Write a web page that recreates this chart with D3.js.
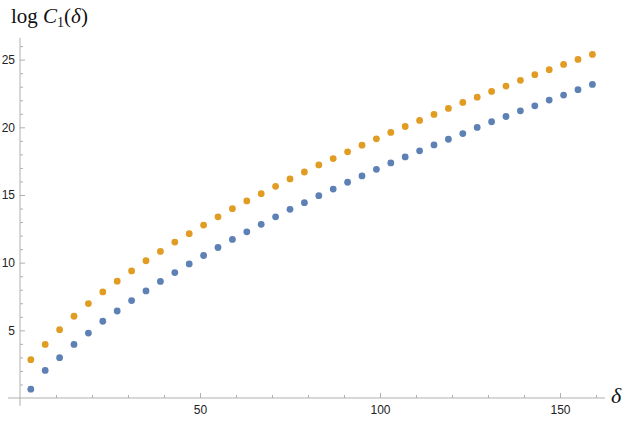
<!DOCTYPE html>
<html>
<head>
<meta charset="utf-8">
<script src="https://cdn.jsdelivr.net/npm/d3@7"></script>
<style>
  body { margin: 0; background: #fff; }
  svg { display: block; }
  .tick text { font-family: "Liberation Sans", Arial, sans-serif; font-size: 12px; fill: #222; }
  .tick line { stroke: #b0b0b0; }
</style>
</head>
<body>
<svg id="chart" width="628" height="421"></svg>
<script>
// delta values (x) shared by both series
var deltas = [3, 7, 11, 15, 19, 23, 27, 31, 35, 39, 43, 47, 51, 55, 59, 63, 67, 71, 75, 79,
              83, 87, 91, 95, 99, 103, 107, 111, 115, 119, 123, 127, 131, 135, 139, 143, 147, 151, 155, 159];

// upper series (orange)
var upperValues = [2.83, 3.96, 5.05, 6.04, 6.98, 7.84, 8.63, 9.39, 10.14, 10.83,
                   11.52, 12.14, 12.78, 13.39, 13.99, 14.56, 15.10, 15.64, 16.19, 16.70,
                   17.22, 17.69, 18.19, 18.68, 19.15, 19.62, 20.06, 20.51, 20.95, 21.40,
                   21.84, 22.23, 22.65, 23.05, 23.47, 23.89, 24.26, 24.65, 25.02, 25.39];

// lower series (blue)
var lowerValues = [0.65, 2.04, 2.98, 3.96, 4.80, 5.67, 6.43, 7.20, 7.91, 8.61,
                   9.27, 9.91, 10.53, 11.12, 11.72, 12.28, 12.83, 13.39, 13.94, 14.43,
                   14.95, 15.44, 15.94, 16.41, 16.90, 17.37, 17.81, 18.26, 18.70, 19.12,
                   19.54, 19.99, 20.41, 20.80, 21.22, 21.59, 22.01, 22.38, 22.78, 23.17];

var xMajorTicks = [50, 100, 150];
var xMinorTicks = [10, 20, 30, 40, 60, 70, 80, 90, 110, 120, 130, 140, 160];
var yMajorTicks = [5, 10, 15, 20, 25];
var yMinorTicks = [1, 2, 3, 4, 6, 7, 8, 9, 11, 12, 13, 14, 16, 17, 18, 19, 21, 22, 23, 24, 26];

var svg = d3.select("#chart");

var x = d3.scaleLinear().domain([0, 162.5]).range([20, 605]);
var y = d3.scaleLinear().domain([0, 26.6]).range([398, 38]);

var axisColor = "#b0b0b0";

// axis lines, slightly past the origin like the original
svg.append("line")
    .attr("x1", 8).attr("x2", x(162.5))
    .attr("y1", y(0)).attr("y2", y(0))
    .attr("stroke", axisColor);
svg.append("line")
    .attr("x1", x(0)).attr("x2", x(0))
    .attr("y1", 406).attr("y2", y(26.6))
    .attr("stroke", axisColor);

// x axis ticks (pointing up, into the plot)
var xAxis = svg.append("g")
    .attr("transform", "translate(0," + y(0) + ")")
    .call(d3.axisBottom(x).tickValues(xMajorTicks).tickSize(-5).tickPadding(5).tickFormat(d3.format("d")));
xAxis.select(".domain").remove();
xAxis.selectAll(".tick text").attr("dy", "0.71em").attr("y", 7);

var xMinor = svg.append("g")
    .attr("transform", "translate(0," + y(0) + ")")
    .call(d3.axisBottom(x).tickValues(xMinorTicks).tickSize(-3).tickFormat(""));
xMinor.select(".domain").remove();

// y axis ticks (pointing right)
var yAxis = svg.append("g")
    .attr("transform", "translate(" + x(0) + ",0)")
    .call(d3.axisLeft(y).tickValues(yMajorTicks).tickSize(-5).tickPadding(5).tickFormat(d3.format("d")));
yAxis.select(".domain").remove();

var yMinor = svg.append("g")
    .attr("transform", "translate(" + x(0) + ",0)")
    .call(d3.axisLeft(y).tickValues(yMinorTicks).tickSize(-3).tickFormat(""));
yMinor.select(".domain").remove();

svg.selectAll(".tick line").attr("stroke", axisColor);

// points
var series = [
    { values: upperValues, color: "#e19c24" },
    { values: lowerValues, color: "#5e81b5" }
];

series.forEach(function (s) {
    svg.append("g").selectAll("circle")
        .data(deltas)
        .enter()
        .append("circle")
        .attr("cx", function (d) { return x(d); })
        .attr("cy", function (d, i) { return y(s.values[i]); })
        .attr("r", 3.4)
        .attr("fill", s.color);
});

// y label: log C_1(delta)
var title = svg.append("text")
    .attr("x", 11)
    .attr("y", 23)
    .style("font-family", "'Liberation Serif', 'Times New Roman', serif")
    .style("font-size", "21px")
    .attr("fill", "#111");
title.append("tspan").text("log ");
title.append("tspan").style("font-style", "italic").text("C");
title.append("tspan").attr("dy", 4).style("font-size", "14px").text("1");
title.append("tspan").attr("dy", -4).text("(");
title.append("tspan").style("font-style", "italic").text("δ");
title.append("tspan").text(")");

// x label
svg.append("text")
    .attr("x", 611)
    .attr("y", 403)
    .style("font-family", "'Liberation Serif', 'Times New Roman', serif")
    .style("font-size", "22px")
    .style("font-style", "italic")
    .attr("fill", "#111")
    .text("δ");
</script>
</body>
</html>
